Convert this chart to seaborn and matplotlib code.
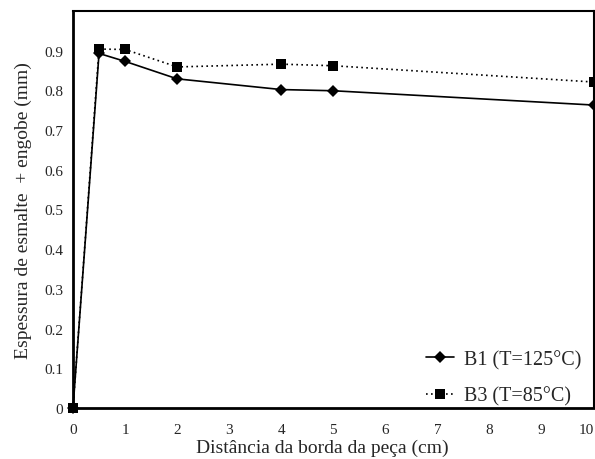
import matplotlib
matplotlib.use("Agg")
import matplotlib.pyplot as plt
import seaborn as sns
import pandas as pd

# Distance from the edge of the piece (cm)
distancia = [0, 0.5, 1, 2, 4, 5, 10]
# Glaze + engobe thickness (mm)
b1 = [0.0, 0.893, 0.873, 0.829, 0.802, 0.799, 0.763]
b3 = [0.0, 0.904, 0.903, 0.859, 0.866, 0.862, 0.821]
serie_b1 = "B1 (T=125°C)"
serie_b3 = "B3 (T=85°C)"
xticks = list(range(0, 11))
yticks = [0, 0.1, 0.2, 0.3, 0.4, 0.5, 0.6, 0.7, 0.8, 0.9]
ytick_labels = ["0", "0.1", "0.2", "0.3", "0.4", "0.5", "0.6", "0.7", "0.8", "0.9"]

df = pd.DataFrame({
    "x": distancia * 2,
    "y": b1 + b3,
    "serie": [serie_b1] * len(distancia) + [serie_b3] * len(distancia),
})

sns.set_style("white")
plt.rcParams["font.family"] = ["Liberation Serif", "DejaVu Serif"]

fig = plt.figure(figsize=(5.95, 4.6), dpi=100)
ax = fig.add_axes([0.1227, 0.111, 0.875, 0.863])

sns.lineplot(
    data=df, x="x", y="y", hue="serie", style="serie",
    palette={serie_b1: "black", serie_b3: "black"},
    markers={serie_b1: "D", serie_b3: "s"},
    dashes={serie_b1: "", serie_b3: (1, 2)},
    markersize=6.5, linewidth=1.2, markeredgewidth=0,
    ax=ax, legend=True,
)

ax.set_xlim(0, 10)
ax.set_ylim(0, 1.0)
ax.set_xticks(xticks)
ax.set_xticklabels([str(t) for t in xticks])
ax.set_yticks(yticks)
ax.set_yticklabels(ytick_labels)
ax.tick_params(axis="both", length=0, labelsize=11)
ax.tick_params(axis="x", pad=11)
ax.tick_params(axis="y", pad=7)
# keep the last x label inside the figure
ax.get_xticklabels()[-1].set_horizontalalignment("right")

ax.set_xlabel("Distância da borda da peça (cm)", fontsize=14)
ax.xaxis.set_label_coords(0.478, -0.078)
ax.set_ylabel("Espessura de esmalte  + engobe (mm)", fontsize=14, labelpad=9)

for side in ["left", "bottom"]:
    ax.spines[side].set_linewidth(2.0)
    ax.spines[side].set_color("black")
for side in ["top", "right"]:
    ax.spines[side].set_linewidth(1.5)
    ax.spines[side].set_color("black")

for line in ax.get_lines():
    line.set_clip_on(False)

leg = ax.legend(loc="lower right", bbox_to_anchor=(1.0, -0.025),
                frameon=False, fontsize=14.5,
                handlelength=1.4, handletextpad=0.5,
                borderaxespad=0.2, labelspacing=0.85)

fig.savefig("out.png", dpi=100)
